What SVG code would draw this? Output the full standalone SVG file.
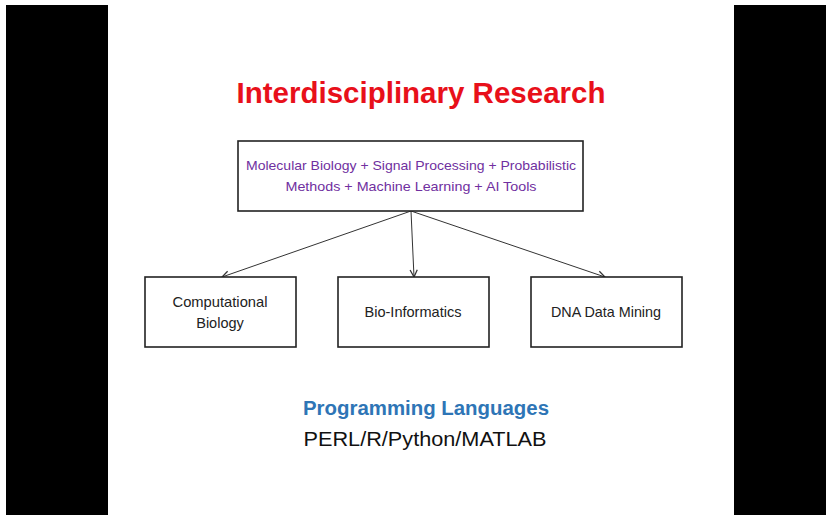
<svg xmlns="http://www.w3.org/2000/svg" width="826" height="515" viewBox="0 0 826 515">
<style>
.box{fill:#fff;stroke:#222;stroke-width:1.6}
.lbl{font-family:"Liberation Sans",Arial,sans-serif;font-size:14.5px;fill:#222;text-anchor:middle}
.pur{font-family:"Liberation Sans",Arial,sans-serif;font-size:13.5px;fill:#7030a0;text-anchor:middle}
.conn{stroke:#333;stroke-width:1;fill:none;marker-end:url(#ah)}
</style>
<defs>
<marker id="ah" viewBox="0 0 10 10" refX="9" refY="5" markerWidth="9" markerHeight="9" markerUnits="userSpaceOnUse" orient="auto">
<path d="M1,1 L9,5 L1,9" fill="none" stroke="#333" stroke-width="1.4"/>
</marker>
</defs>
<rect width="826" height="515" fill="#fff"/>
<rect x="6" y="5" width="102" height="510" fill="#000"/>
<rect x="734" y="5" width="92" height="510" fill="#000"/>
<text x="421" y="103" text-anchor="middle" font-family="Liberation Sans,Arial,sans-serif" font-weight="bold" font-size="30" fill="#e8101a" textLength="369" lengthAdjust="spacingAndGlyphs">Interdisciplinary Research</text>
<g id="connectors">
<line class="conn" x1="411" y1="211" x2="222" y2="277"/>
<line class="conn" x1="411" y1="211" x2="414" y2="277"/>
<line class="conn" x1="411" y1="211" x2="605" y2="277"/>
</g>
<g id="main">
<rect class="box" x="238" y="141" width="345" height="70"/>
<text class="pur" x="411" y="170" textLength="330" lengthAdjust="spacingAndGlyphs">Molecular Biology + Signal Processing + Probabilistic</text>
<text class="pur" x="411" y="191" textLength="251" lengthAdjust="spacingAndGlyphs">Methods + Machine Learning + AI Tools</text>
</g>
<g id="compbio">
<rect class="box" x="145" y="277" width="151" height="70"/>
<text class="lbl" x="220" y="307" textLength="95" lengthAdjust="spacingAndGlyphs">Computational</text>
<text class="lbl" x="220" y="328">Biology</text>
</g>
<g id="bioinfo">
<rect class="box" x="338" y="277" width="151" height="70"/>
<text class="lbl" x="413" y="317" textLength="97" lengthAdjust="spacingAndGlyphs">Bio-Informatics</text>
</g>
<g id="dna">
<rect class="box" x="531" y="277" width="151" height="70"/>
<text class="lbl" x="606" y="317" textLength="110" lengthAdjust="spacingAndGlyphs">DNA Data Mining</text>
</g>
<text x="426" y="415" text-anchor="middle" font-family="Liberation Sans,Arial,sans-serif" font-weight="bold" font-size="20" fill="#2e75b6" textLength="246" lengthAdjust="spacingAndGlyphs">Programming Languages</text>
<text x="425" y="446" text-anchor="middle" font-family="Liberation Sans,Arial,sans-serif" font-size="21" fill="#111" textLength="243" lengthAdjust="spacingAndGlyphs">PERL/R/Python/MATLAB</text>
</svg>
